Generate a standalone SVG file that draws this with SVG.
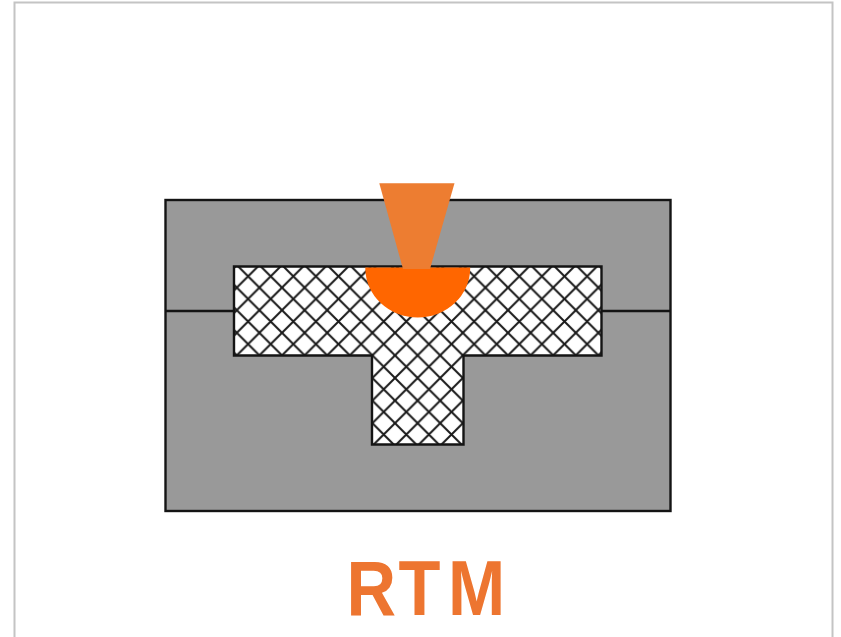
<svg xmlns="http://www.w3.org/2000/svg" width="841" height="637" viewBox="0 0 841 637">
  <defs>
    <pattern id="hatch" patternUnits="userSpaceOnUse" x="395" y="378" width="22.6" height="22.6">
      <rect width="22.6" height="22.6" fill="#fff"/>
      <path d="M-2 -2L24.6 24.6M24.6 -2L-2 24.6" fill="none" stroke="#1a1a1a" stroke-width="2"/>
    </pattern>
  </defs>
  <style>
    .edge { stroke: #141414; stroke-width: 2.4; }
    .title { font-family: "Liberation Sans", Arial, sans-serif; font-weight: 700; font-size: 78px; fill: #ed7530; }
  </style>
  <rect id="frame" x="14.500" y="2.500" width="818" height="640" fill="#fff" stroke="#c4c4c4" stroke-width="2"/>
  <g id="mold">
    <rect class="edge" x="165.500" y="200" width="505" height="311" fill="#999"/>
  </g>
  <g id="connectors">
    <path class="edge" d="M165.500 311H234M601.500 311H670.500" fill="none"/>
  </g>
  <g id="preform">
    <path class="edge" d="M234 266.500H601.500V355.500H463.500V444.500H372V355.500H234Z" fill="url(#hatch)"/>
  </g>
  <g id="resin">
    <path d="M365.300 267.500H470.200V268A52.450 49.500 0 0 1 365.300 268Z" fill="#ff6600"/>
  </g>
  <g id="injector">
    <path d="M379.300 183.300H454.500L430 269H403Z" fill="#ed7d31"/>
  </g>
  <text id="title" class="title" transform="translate(0 615.300) scale(.88 1)" x="393.800 452.800 509" y="0">RTM</text>
</svg>
